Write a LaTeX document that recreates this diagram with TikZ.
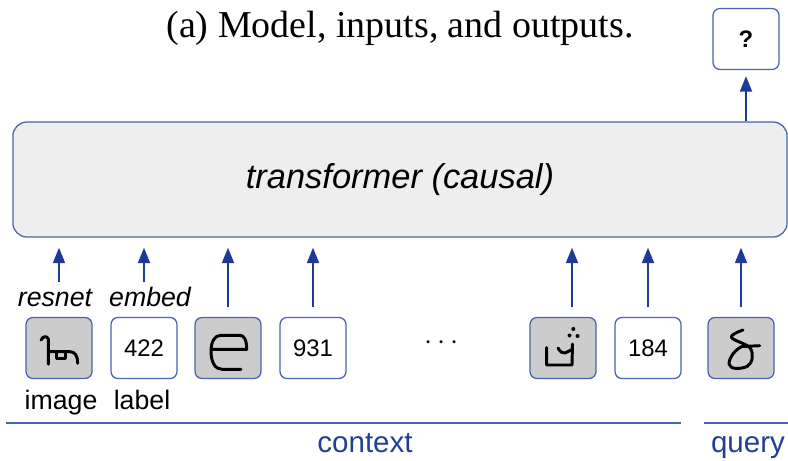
\documentclass[tikz,border=0pt]{standalone}
\usepackage{fontspec}
\setmainfont{Liberation Serif}
\setsansfont{Liberation Sans}
\usepackage{xcolor}
\usepackage{tikz}
\usetikzlibrary{
    arrows.meta,
    positioning
}
\definecolor{edgeblue}{RGB}{72,100,178}
\definecolor{arrowblue}{RGB}{28,58,152}
\definecolor{textblue}{RGB}{34,62,150}
\tikzstyle{token} = [
    rectangle, draw=edgeblue,
    line width=0.9pt,
    rounded corners=5pt,
    minimum width=1.65cm,
    minimum height=1.525cm,
    inner sep=0pt,
    fill=white,
    font=\sffamily\fontsize{17}{20}\selectfont
]
\tikzstyle{imgtoken} = [
    token,
    fill=gray!40
]
\tikzstyle{tfbox} = [
    rectangle, draw=edgeblue,
    line width=0.9pt,
    rounded corners=10pt,
    minimum width=19.35cm,
    minimum height=2.875cm,
    fill=gray!13,
    font=\sffamily\itshape\fontsize{24.5}{28}\selectfont
]
\tikzstyle{arrow} = [
    line width=1.4pt,
    draw=arrowblue,
    -{Triangle[length=11pt,width=8.5pt]}
]
\tikzstyle{glyph} = [
    line width=2.1pt,
    line cap=round,
    line join=round
]
\tikzstyle{lbl} = [
    inner sep=0pt,
    anchor=base,
    font=\sffamily\fontsize{19}{22}\selectfont
]
\tikzstyle{part} = [
    inner sep=0pt,
    anchor=base,
    text=textblue,
    font=\sffamily\fontsize{21}{24}\selectfont
]

\begin{document}
\begin{tikzpicture}[
        x=0.025cm, y=-0.025cm
    ]
    \useasboundingbox (0,0) rectangle (788,460);

    % title
    \node[anchor=base, font=\fontsize{27}{30}\selectfont] (title) at (400,37)
        {(a) Model, inputs, and outputs.};

    % model and output
    \node[tfbox] (tf) at (400,179.5) {\raisebox{-2pt}{transformer (causal)}};
    \node[token, font=\sffamily\bfseries\fontsize{17}{19}\selectfont] (ans) at (746,39) {?};

    % input sequence
    \node[imgtoken] (img1) at (59,348) {};
    \node[token]    (lab1) at (144,348) {422};
    \node[imgtoken] (img2) at (228,348) {};
    \node[token]    (lab2) at (313,348) {931};
    \node[font=\fontsize{20}{20}\selectfont] (dots) at (442,343) {$\cdots$};
    \node[imgtoken] (img3) at (563,348) {};
    \node[token]    (lab3) at (648,348) {184};
    \node[imgtoken] (qry)  at (741,348) {};

    % handwritten characters
    \begin{scope}[shift={(img1.center)}]
        \draw[glyph] (-18,-8) .. controls (-16,-12) and (-12,-12.5) .. (-10.7,-9) -- (-10.7,16.3);
        \draw[glyph] (-10.7,3.7) -- (11,3.7) .. controls (16,3.7) and (18.7,8) .. (18.7,15.3);
        \draw[glyph] (-2.3,3.7) -- (-2.3,10.3) -- (6.3,10.3) -- (6.3,3.7);
    \end{scope}
    \begin{scope}[shift={(img2.center)}]
        \draw[glyph] (-17,1.3) -- (18.7,1.3) .. controls (18.7,-8) and (16,-12.7) .. (12,-12.7)
            -- (-7.3,-12.7) .. controls (-14,-12.7) and (-17,-5) .. (-17,3)
            .. controls (-17,14) and (-13,21.3) .. (-6,21.3) -- (13,21.3);
    \end{scope}
    \begin{scope}[shift={(img3.center)}]
        \draw[glyph] (-16.3,-0.5) -- (-16.3,17) -- (9,17) -- (9.5,-4);
        \draw[glyph] (-5,0) .. controls (-3,4) and (0,5.5) .. (2,5) -- (9,1.5);
        \fill (10.3,-19) circle (2);
        \fill (6.5,-12.5) circle (2);
        \fill (14.5,-12) circle (2);
    \end{scope}
    \begin{scope}[shift={(qry.center)}]
        \draw[glyph] (2,-18) .. controls (-4,-16) and (-10,-13) .. (-9.7,-11)
            .. controls (-8,-7) and (5,-5) .. (9,0) .. controls (13,5) and (12,15) .. (6,18.5)
            .. controls (0,21) and (-11,22) .. (-12,16) .. controls (-12,9) and (-5,1) .. (1,-1.5)
            -- (18.7,-2.3);
    \end{scope}

    % encoder names and token kinds
    \node[lbl, font=\sffamily\itshape\fontsize{19}{22}\selectfont] (resnet) at (55,306) {resnet};
    \node[lbl, font=\sffamily\itshape\fontsize{19}{22}\selectfont] (embed) at (150,306) {embed};
    \node[lbl] (kimg) at (61,409) {image};
    \node[lbl] (klab) at (142,409) {label};

    % arrows into the model
    \draw[arrow, shorten <=0.86cm, shorten >=0.25cm] (img1.north) -- (img1.north |- tf.south);
    \draw[arrow, shorten <=0.86cm, shorten >=0.25cm] (lab1.north) -- (lab1.north |- tf.south);
    \draw[arrow, shorten <=0.24cm, shorten >=0.25cm] (img2.north) -- (img2.north |- tf.south);
    \draw[arrow, shorten <=0.24cm, shorten >=0.25cm] (lab2.north) -- (lab2.north |- tf.south);
    \draw[arrow, shorten <=0.24cm, shorten >=0.25cm] ([xshift=0.225cm]img3.north) -- ([xshift=0.225cm]img3.north |- tf.south);
    \draw[arrow, shorten <=0.24cm, shorten >=0.25cm] (lab3.north) -- (lab3.north |- tf.south);
    \draw[arrow, shorten <=0.24cm, shorten >=0.25cm] (qry.north) -- (qry.north |- tf.south);
    \draw[arrow, shorten >=0.15cm] (tf.north -| ans.south) -- (ans.south);

    % context / query
    \draw[edgeblue, line width=1pt] (6,423) -- (681,423);
    \draw[edgeblue, line width=1pt] (704,423) -- (788,423);
    \node[part] (ctx) at (365,452) {context};
    \node[part] (qlab) at (748,452) {query};
\end{tikzpicture}
\end{document}
